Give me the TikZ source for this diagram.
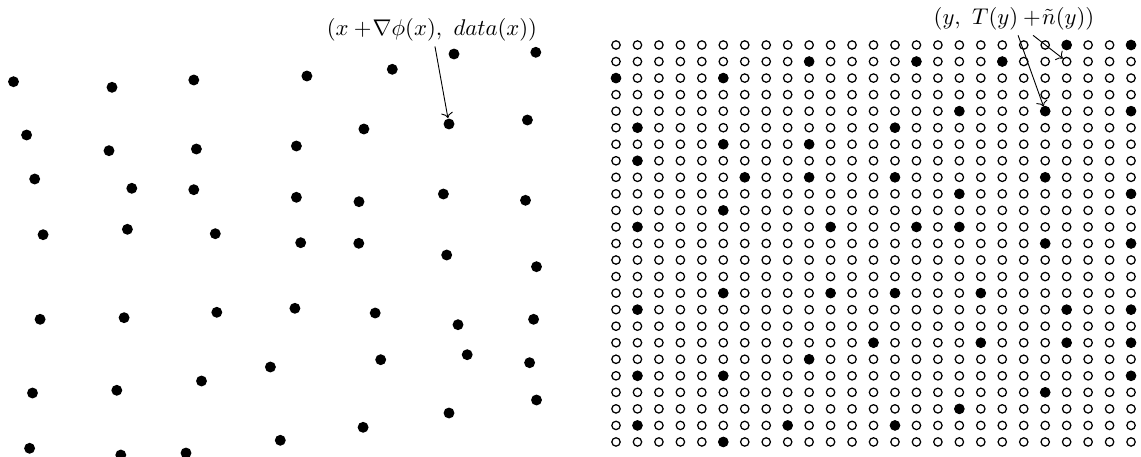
\documentclass[tikz,border=0pt]{standalone}
\usepackage{amsmath,amssymb}
\usepackage{tikz}
\usetikzlibrary{arrows.meta}

\begin{document}
\begin{tikzpicture}[x=0.44pt, y=-0.44pt,
    dot/.style={circle, fill=black, inner sep=0pt, minimum size=4.8pt},
    hole/.style={circle, draw=black, line width=0.55pt, inner sep=0pt, minimum size=3.7pt},
    full/.style={hole, fill=black, minimum size=4.1pt},
    lab/.style={inner sep=2pt},
    arr/.style={->, thin},
  ]
    \useasboundingbox (0,0) rectangle (1141,457);

    \foreach \px/\py [count=\i] in {13.5/81.7, 112/87.3, 193.8/80, 306.9/76, 392.3/69.3, 454/54, 535.8/52.3,
        26.6/135, 109/150.7, 196.4/149, 296.4/146, 363.9/129, 449/124, 527.4/120,
        34.7/179, 131.8/188.3, 193.8/189.7, 296.4/197.3, 359/201.7, 443.4/194, 525.5/200.3,
        43.1/234.7, 127.4/229.3, 215.3/233.7, 300.7/242.7, 358.8/243.3, 446.7/255, 536.5/266.7,
        40.1/319.3, 124.1/317.7, 216.8/312.3, 294.9/308.3, 375.2/313, 458/324.7, 533.6/319.3,
        32.5/393, 116.8/390.3, 201.5/381, 270.4/367, 380.7/359.7, 467.2/354.7, 529.6/362.7,
        29.6/448.3, 120.8/455, 186/453, 280.3/440.3, 363.1/427.3, 449/413, 536.5/400}
      \node[dot] (p\i) at (\px,\py) {};

    \foreach \r in {0,...,24}
      \foreach \c in {0,...,24}
        \node[hole] (g-\r-\c) at (616+21.46*\c, 45+16.54*\r) {};

    \foreach \r/\c in {0/21, 0/24, 1/9, 1/14, 1/18, 2/0, 2/5, 4/16, 4/20, 4/24,
        5/1, 5/13, 6/5, 6/9, 7/1, 8/6, 8/9, 8/13, 8/20, 9/16, 9/24, 10/5,
        11/1, 11/10, 11/14, 11/16, 12/20, 12/24, 15/5, 15/10, 15/13, 15/17,
        16/1, 16/21, 16/24, 18/12, 18/17, 18/21, 18/24, 19/9, 20/1, 20/5, 20/24,
        21/20, 22/16, 23/1, 23/8, 23/13, 24/5}
      \node[full] at (g-\r-\c) {};

    \node[lab] (lx) at (432,30) {$(x+\!\nabla\phi(x),\ data(x))$};
    \draw[arr] ([xshift=1.3pt]lx.south) -- (p13);

    \node[lab] (ly) at (1014,19) {$(y,\ T(y)+\!\tilde{n}(y))$};
    \draw[arr] ([xshift=1.8pt]ly.south) -- (g-4-20);
    \draw[arr] ([xshift=8.4pt]ly.south) -- (g-1-21);
  \end{tikzpicture}
\end{document}
